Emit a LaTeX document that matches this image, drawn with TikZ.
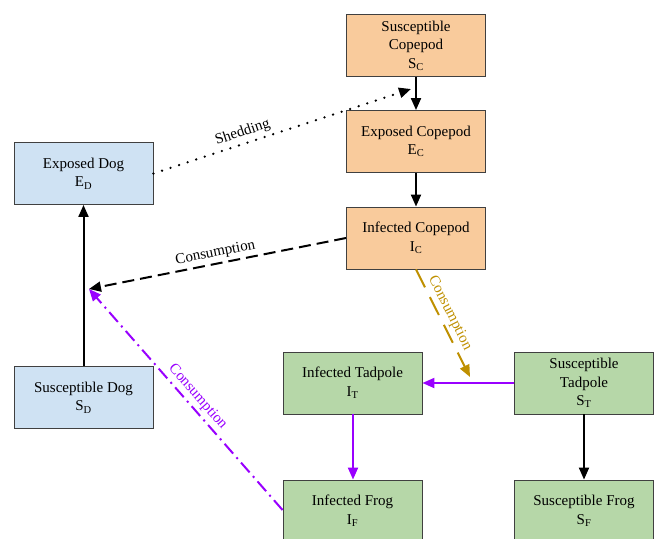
\documentclass[tikz,border=0pt]{standalone}
\usepackage{fontspec}
\setmainfont{Liberation Serif}
\usetikzlibrary{arrows.meta}
\definecolor{peach}{HTML}{F9CB9C}
\definecolor{lblue}{HTML}{CFE2F3}
\definecolor{lgreen}{HTML}{B6D7A8}
\definecolor{vpurple}{HTML}{9900FF}
\definecolor{dgold}{HTML}{BF9000}
\begin{document}
\begin{tikzpicture}[x=1pt,y=-1pt,
  box/.style={draw=black!75, line width=0.9pt, minimum width=139pt, minimum height=62pt, align=center, inner sep=2pt, font=\fontsize{15}{18.5}\selectfont},
  arr/.style={line width=2pt, -{Triangle[length=12pt,width=10pt]}},
  lbl/.style={font=\fontsize{15}{17}\selectfont, sloped, above, inner sep=3pt}]
\useasboundingbox (0,0) rectangle (660,538);
\node[box, fill=peach] (sc) at (416,45.5) {Susceptible\\Copepod\\S\textsubscript{C}};
\node[box, fill=peach] (ec) at (416,141.5) {Exposed Copepod\\E\textsubscript{C}};
\node[box, fill=peach] (ic) at (416,238) {Infected Copepod\\I\textsubscript{C}};
\node[box, fill=lblue] (ed) at (83.5,173.5) {Exposed Dog\\E\textsubscript{D}};
\node[box, fill=lblue] (sd) at (83.5,397.5) {Susceptible Dog\\S\textsubscript{D}};
\node[box, fill=lgreen] (it) at (352.5,383) {Infected Tadpole\\I\textsubscript{T}};
\node[box, fill=lgreen] (st) at (584,383) {Susceptible\\Tadpole\\S\textsubscript{T}};
\node[box, fill=lgreen] (if) at (352.5,511) {Infected Frog\\I\textsubscript{F}};
\node[box, fill=lgreen] (sf) at (584,511) {Susceptible Frog\\S\textsubscript{F}};
\coordinate (dogpt) at (89,289);
\coordinate (shed) at (411,89);
\coordinate (tadpt) at (470,377);
% solid flows
\draw[arr] (sc) -- (ec);
\draw[arr] (ec) -- (ic);
\draw[arr] (sd) -- (ed);
\draw[arr] (st) -- (sf);
\draw[arr, vpurple] (st) -- (it);
\draw[arr, vpurple] (it.south -| 353,0) -- (if.north -| 353,0);
% transmission routes
\draw[arr, line width=2.6pt, line cap=round, dash pattern=on 0pt off 9pt] (ed.east) -- (shed) node[lbl, pos=0.36, text=black] {Shedding};
\draw[arr, dash pattern=on 12pt off 6pt] (ic.west) -- (dogpt) node[lbl, pos=0.5, text=black] {Consumption};
\draw[arr, dgold, dash pattern=on 20pt off 11pt] (ic.south) -- (tadpt) node[lbl, pos=0.45, text=dgold] {Consumption};
\draw[arr, vpurple, dash pattern=on 13pt off 5pt on 2pt off 5pt] (if.west) ++(0,-1) -- (dogpt) node[lbl, pos=0.48, text=vpurple] {Consumption};
\end{tikzpicture}
\end{document}
